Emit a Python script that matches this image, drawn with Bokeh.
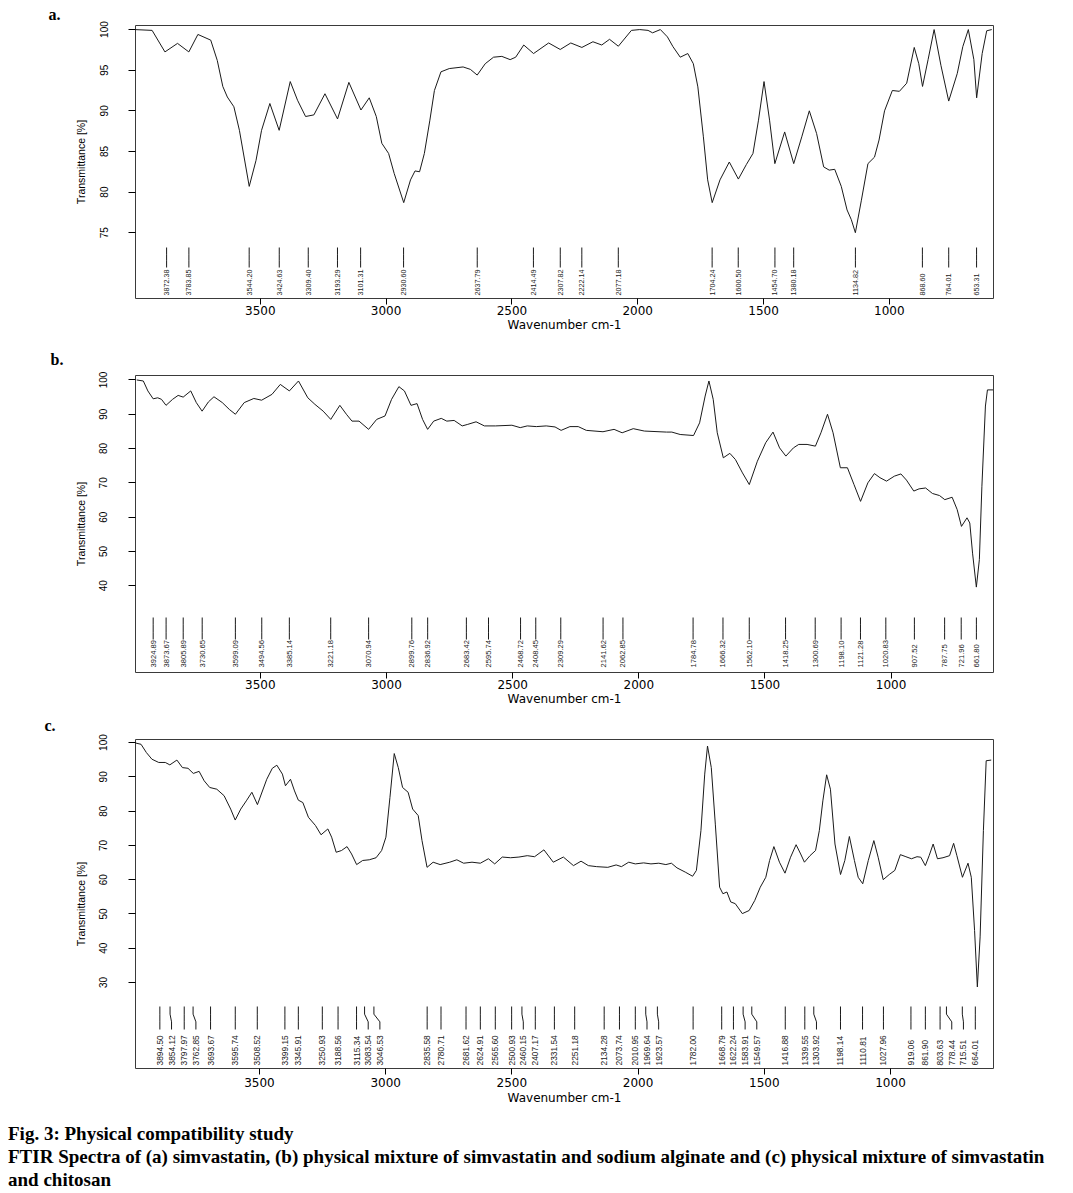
import math
from bokeh.plotting import figure
from bokeh.models import Range1d, FixedTicker, Div
from bokeh.layouts import column
from bokeh.embed import file_html
from bokeh.resources import INLINE
from bokeh.core.properties import value

# ---------------- data ----------------
# Panel a: simvastatin
wn_a = [4000, 3930, 3879, 3829, 3784, 3748, 3697, 3671, 3649, 3631, 3605, 3583, 3544, 3517, 3495,
        3462, 3425, 3381, 3352, 3320, 3287, 3243, 3193, 3148, 3100, 3067, 3039, 3017, 2990, 2968,
        2930, 2903, 2885, 2867, 2848, 2826, 2808, 2782, 2749, 2694, 2665, 2638, 2606, 2573, 2540,
        2507, 2485, 2453, 2414, 2354, 2308, 2266, 2222, 2178, 2143, 2112, 2077, 2025, 1992, 1959,
        1941, 1910, 1882, 1860, 1831, 1801, 1779, 1761, 1739, 1722, 1704, 1673, 1636, 1600, 1568,
        1542, 1520, 1498, 1476, 1455, 1416, 1380, 1348, 1318, 1289, 1261, 1239, 1217, 1191, 1168,
        1151, 1135, 1111, 1085, 1059, 1041, 1019, 988, 960, 931, 901, 883, 868, 846, 822,
        795, 764, 730, 708, 686, 664, 653, 631, 613, 593]
t_a = [100.0, 99.9, 97.25, 98.3, 97.25, 99.4, 98.7, 96.2, 93.0, 91.7, 90.5, 87.6, 80.7, 83.9, 87.6,
       90.9, 87.6, 93.6, 91.3, 89.3, 89.5, 92.1, 89.0, 93.5, 90.1, 91.6, 89.3, 86.0, 84.75, 82.3,
       78.7, 81.5, 82.6, 82.5, 84.75, 88.85, 92.5, 94.8, 95.2, 95.4, 95.1, 94.4, 95.8, 96.6, 96.7,
       96.3, 96.6, 98.1, 97.05, 98.35, 97.55, 98.35, 97.8, 98.5, 98.1, 98.8, 97.95, 99.9, 100.0, 99.9,
       99.6, 100.0, 99.1, 97.9, 96.6, 97.05, 95.8, 92.95, 86.8, 81.5, 78.7, 81.5, 83.7, 81.6, 83.4,
       84.75, 88.85, 93.6, 88.85, 83.5, 87.4, 83.5, 86.8, 90.0, 87.2, 83.1, 82.7, 82.8, 80.7, 77.8,
       76.6, 75.0, 79.0, 83.5, 84.3, 86.4, 90.0, 92.5, 92.4, 93.4, 97.8, 95.8, 93.0, 96.3, 100.0,
       95.6, 91.2, 94.6, 97.9, 100.0, 96.3, 91.6, 97.05, 99.85, 100.0]
peaks_a = ["3872.38", "3783.85", "3544.20", "3424.63", "3309.40", "3193.29", "3101.31", "2930.60",
           "2637.79", "2414.49", "2307.82", "2222.14", "2077.18", "1704.24", "1600.50", "1454.70",
           "1380.18", "1134.82", "868.60", "764.01", "653.31"]

# Panel b: simvastatin + sodium alginate
wn_b = [3990, 3964, 3946, 3925, 3907, 3892, 3874, 3848, 3826, 3806, 3776, 3754, 3731, 3706, 3684,
        3651, 3623, 3599, 3564, 3526, 3495, 3454, 3421, 3385, 3349, 3312, 3284, 3251, 3221, 3185,
        3159, 3137, 3109, 3071, 3039, 3006, 2980, 2951, 2929, 2903, 2879, 2857, 2837, 2813, 2783,
        2761, 2732, 2700, 2678, 2645, 2612, 2568, 2503, 2470, 2442, 2406, 2367, 2332, 2308, 2273,
        2240, 2208, 2142, 2098, 2066, 2022, 1978, 1890, 1869, 1836, 1783, 1759, 1737, 1722, 1705,
        1689, 1665, 1639, 1617, 1589, 1562, 1530, 1497, 1468, 1442, 1417, 1387, 1366, 1333, 1300,
        1278, 1252, 1230, 1201, 1173, 1147, 1121, 1092, 1066, 1044, 1018, 987, 961, 939, 910,
        889, 863, 836, 808, 787, 758, 738, 721, 699, 688, 677, 662, 650, 640, 626,
        618, 596]
t_b = [100.0, 99.7, 96.8, 94.5, 94.8, 94.35, 92.6, 94.35, 95.5, 95.0, 96.8, 93.4, 90.9, 93.6, 95.1,
       93.4, 91.4, 90.0, 93.4, 94.6, 94.1, 95.8, 98.7, 96.8, 99.7, 94.8, 92.9, 90.9, 88.5, 92.6,
       90.0, 88.0, 88.0, 85.6, 88.5, 89.5, 94.35, 98.05, 96.8, 92.6, 93.1, 88.5, 85.6, 88.0, 88.8,
       88.0, 88.2, 86.6, 87.05, 87.8, 86.6, 86.6, 86.8, 86.1, 86.6, 86.4, 86.6, 86.3, 85.3, 86.4,
       86.4, 85.3, 84.9, 85.6, 84.6, 85.8, 85.1, 84.8, 84.8, 84.1, 83.8, 87.5, 95.3, 99.7, 94.35,
       84.6, 77.3, 78.6, 76.8, 72.9, 69.5, 76.3, 81.7, 84.8, 80.2, 77.8, 80.2, 81.2, 81.2, 80.7,
       84.6, 90.0, 84.6, 74.4, 74.4, 69.5, 64.6, 70.0, 72.7, 71.5, 70.5, 71.95, 72.6, 70.8, 67.6,
       68.25, 68.5, 66.9, 66.3, 65.1, 65.8, 62.2, 57.3, 59.8, 58.3, 49.5, 39.6, 47.6, 69.0, 92.4,
       97.1, 97.1]
peaks_b = ["3924.89", "3873.67", "3805.89", "3730.65", "3599.09", "3494.56", "3385.14", "3221.18",
           "3070.94", "2899.76", "2836.92", "2683.42", "2595.74", "2468.72", "2408.45", "2309.29",
           "2141.62", "2062.85", "1784.78", "1666.32", "1562.10", "1418.25", "1300.69", "1198.10",
           "1121.28", "1020.83", "907.52", "787.75", "721.96", "661.80"]

# Panel c: simvastatin + chitosan
wn_c = [3998, 3969, 3948, 3926, 3899, 3873, 3855, 3827, 3805, 3783, 3762, 3739, 3719, 3697, 3669,
        3640, 3614, 3596, 3574, 3552, 3530, 3508, 3471, 3449, 3431, 3409, 3397, 3377, 3361, 3346,
        3328, 3306, 3278, 3256, 3229, 3214, 3196, 3175, 3153, 3135, 3115, 3091, 3065, 3038, 3016,
        2999, 2983, 2966, 2950, 2933, 2911, 2893, 2871, 2856, 2836, 2812, 2784, 2746, 2718, 2691,
        2658, 2625, 2593, 2568, 2538, 2505, 2472, 2439, 2410, 2373, 2336, 2296, 2256, 2226, 2197,
        2164, 2120, 2087, 2066, 2037, 2011, 1978, 1949, 1918, 1890, 1868, 1846, 1813, 1784, 1769,
        1751, 1736, 1725, 1710, 1694, 1677, 1664, 1648, 1633, 1615, 1587, 1560, 1538, 1516, 1494,
        1479, 1462, 1440, 1418, 1396, 1374, 1356, 1341, 1319, 1297, 1282, 1268, 1253, 1238, 1220,
        1198, 1181, 1163, 1143, 1128, 1110, 1088, 1066, 1049, 1029, 1005, 983, 961, 939, 917,
        895, 880, 862, 847, 831, 814, 792, 766, 750, 737, 715, 693, 680, 667, 656,
        645, 632, 621, 601]
t_c = [100.0, 99.5, 97.1, 95.15, 94.2, 94.2, 93.5, 94.9, 92.7, 92.5, 91.0, 91.6, 88.85, 86.9, 86.4,
       84.5, 80.6, 77.4, 80.6, 83.0, 85.5, 81.9, 89.3, 92.5, 93.4, 90.8, 87.4, 89.3, 85.9, 83.2,
       82.5, 78.2, 75.8, 73.1, 74.8, 72.4, 68.0, 68.5, 69.65, 67.5, 64.4, 65.6, 65.8, 66.4, 68.5,
       72.4, 84.0, 96.8, 92.7, 86.9, 85.5, 80.6, 78.7, 71.4, 63.6, 65.1, 64.4, 65.1, 65.8, 64.8,
       65.1, 64.8, 66.1, 64.6, 66.6, 66.4, 66.6, 67.0, 66.7, 68.7, 65.1, 66.6, 64.1, 65.4, 64.1,
       63.8, 63.6, 64.3, 63.8, 65.1, 64.6, 64.9, 64.6, 64.8, 64.4, 64.8, 63.45, 62.2, 61.0, 62.7,
       74.3, 90.8, 99.0, 92.7, 76.2, 57.8, 55.9, 56.4, 53.5, 53.0, 50.1, 51.0, 53.9, 57.8, 60.7,
       65.6, 69.65, 65.1, 61.9, 66.55, 70.2, 67.5, 65.1, 67.0, 68.5, 74.3, 83.0, 90.6, 86.4, 70.4,
       61.5, 65.6, 72.6, 65.6, 60.7, 58.8, 65.6, 71.4, 66.55, 60.0, 61.5, 62.7, 67.3, 66.7, 66.1,
       66.7, 66.55, 64.1, 67.0, 70.4, 66.1, 66.4, 67.0, 70.6, 67.0, 60.7, 64.8, 60.7, 45.2, 28.7,
       43.3, 74.3, 94.7, 94.9]
peaks_c = ["3894.50", "3854.12", "3797.97", "3762.85", "3693.67", "3595.74", "3508.52", "3399.15",
           "3345.91", "3250.93", "3188.56", "3115.34", "3083.54", "3046.53", "2835.58", "2780.71",
           "2681.62", "2624.91", "2565.60", "2500.93", "2460.15", "2407.17", "2331.54", "2251.18",
           "2134.28", "2073.74", "2010.95", "1969.64", "1923.57", "1782.00", "1668.79", "1622.24",
           "1583.91", "1549.57", "1416.88", "1339.55", "1303.92", "1198.14", "1110.81", "1027.96",
           "919.06", "861.90", "803.63", "778.44", "715.51", "664.01"]

x_ticks = [3500, 3000, 2500, 2000, 1500, 1000]
y_ticks_a = [75, 80, 85, 90, 95, 100]
y_ticks_b = [40, 50, 60, 70, 80, 90, 100]
y_ticks_c = [30, 40, 50, 60, 70, 80, 90, 100]
x_label = "Wavenumber cm-1"
y_label = "Transmittance [%]"
caption_title = "Fig. 3: Physical compatibility study"
caption_line2 = "FTIR Spectra of (a) simvastatin, (b) physical mixture of simvastatin and sodium alginate and (c) physical mixture of simvastatin"
caption_line3 = "and chitosan"

# ---------------- styling / layout ----------------
SANS = "Liberation Sans"
HFONT = "DejaVu Sans"
INK = "#1a1a1a"
PAGE_W = 1073


def make_panel(letter, wn, tr, peaks, yticks, xr, yr, box, st):
    left, right, top, bottom, fig_top, fig_bottom, standoff = box
    frame_h = bottom - top
    frame_w = right - left
    p = figure(width=PAGE_W, height=fig_bottom - fig_top, title=letter,
               x_range=Range1d(*xr), y_range=Range1d(*yr),
               output_backend="svg", toolbar_location=None,
               min_border_left=left, min_border_right=PAGE_W - right,
               min_border_top=top - fig_top, min_border_bottom=fig_bottom - bottom,
               background_fill_color="white", border_fill_color="white",
               outline_line_color="#3a3a3a", outline_line_width=1)
    p.margin = (0, 0, 0, 0)
    p.xgrid.visible = False
    p.ygrid.visible = False

    p.title.text_font = "Liberation Serif"
    p.title.text_font_style = "bold"
    p.title.text_font_size = "16px"
    p.title.text_color = "black"
    p.title.align = "left"
    p.title.offset = 44 - left
    p.title.standoff = standoff

    p.line(wn, tr, line_color=INK, line_width=1)

    # peak markers and labels
    dy = (yr[1] - yr[0]) / frame_h
    dx = (xr[0] - xr[1]) / frame_w
    y_top = yr[0] + st["line_top"] * dy
    y_bot = yr[0] + st["line_bot"] * dy
    y_lab = yr[0] + st["lab"] * dy
    gap = st["gap"] * dx
    pos = [float(s) for s in peaks]
    lab_x = []
    prev = None
    for w in pos:
        x = w
        if prev is not None and prev - x < gap:
            x = prev - gap
        lab_x.append(x)
        prev = x
    third = (y_top - y_bot) / 3.0
    xs = [[w, w, lx, lx] for w, lx in zip(pos, lab_x)]
    ys = [[y_top, y_top - third, y_bot + third, y_bot] for _ in pos]
    p.multi_line(xs, ys, line_color=INK, line_width=1)
    p.text(x=lab_x, y=[y_lab] * len(pos), text=peaks, angle=math.pi / 2,
           text_align="left", text_baseline="middle",
           text_font=value(SANS), text_font_size=st["font"], text_color=INK)

    # axes
    p.xaxis.ticker = FixedTicker(ticks=x_ticks, minor_ticks=[])
    p.xaxis.axis_label = x_label
    p.xaxis.axis_line_color = None
    p.xaxis.major_tick_out = 6
    p.xaxis.major_tick_in = 0
    p.xaxis.major_tick_line_color = "black"
    p.xaxis.major_label_text_font = HFONT
    p.xaxis.major_label_text_font_size = "12px"
    p.xaxis.major_label_text_color = "black"
    p.xaxis.major_label_standoff = st["xstand"]
    p.xaxis.axis_label_text_font = HFONT
    p.xaxis.axis_label_text_font_size = "12px"
    p.xaxis.axis_label_text_font_style = "normal"
    p.xaxis.axis_label_text_color = "black"
    p.xaxis.axis_label_standoff = st["xlstand"]

    p.yaxis.ticker = FixedTicker(ticks=yticks, minor_ticks=[])
    p.yaxis.axis_label = y_label
    p.yaxis.axis_line_color = None
    p.yaxis.major_tick_out = 7
    p.yaxis.major_tick_in = 0
    p.yaxis.major_tick_line_color = "black"
    p.yaxis.major_label_orientation = "parallel"
    p.yaxis.major_label_text_font = SANS
    p.yaxis.major_label_text_font_size = "10px"
    p.yaxis.major_label_text_color = "black"
    p.yaxis.major_label_standoff = 21
    p.yaxis.axis_label_text_font = SANS
    p.yaxis.axis_label_text_font_size = "10.5px"
    p.yaxis.axis_label_text_font_style = "normal"
    p.yaxis.axis_label_text_color = "black"
    p.yaxis.axis_label_standoff = 10
    return p


pa = make_panel("a.", wn_a, t_a, peaks_a, y_ticks_a, (3996, 586), (66.9, 100.5),
                (131, 995, 25, 298, 0, 340, 5),
                dict(line_top=51, line_bot=31, lab=3, gap=11.7, font="7.2px", xstand=1, xlstand=0))
pb = make_panel("b.", wn_b, t_b, peaks_b, y_ticks_b, (3995, 594), (14.7, 101.3),
                (129, 993, 375, 672, 340, 708, 15),
                dict(line_top=55, line_bot=33, lab=5, gap=11.7, font="7.6px", xstand=1, xlstand=0))
pc = make_panel("c.", wn_c, t_c, peaks_c, y_ticks_c, (3991, 592), (4.9, 100.9),
                (135, 995, 739, 1068, 708, 1108, 12),
                dict(line_top=62, line_bot=39, lab=3, gap=11.7, font="8.4px", xstand=3, xlstand=1))

caption = Div(
    text=('<div style="font-family:\'Liberation Serif\',serif;font-weight:bold;font-size:19px;'
          'line-height:23px;color:#000;white-space:nowrap;padding-top:14px;padding-left:8px;'
          'height:85px;box-sizing:border-box;">'
          + caption_title + '<br>' + caption_line2 + '<br>' + caption_line3 + '</div>'),
    width=PAGE_W, height=85, margin=(0, 0, 0, 0))

layout = column(pa, pb, pc, caption, spacing=0)

open("out.html", "w").write(file_html(layout, INLINE))
